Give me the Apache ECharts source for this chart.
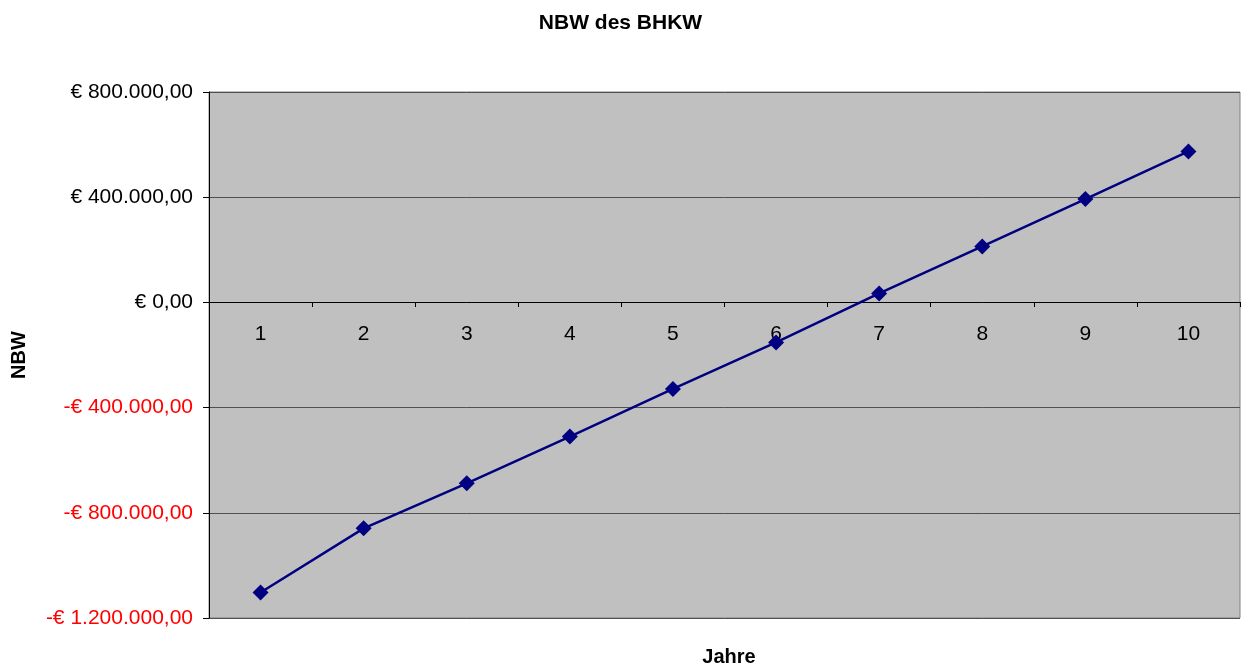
<!DOCTYPE html>
<html>
<head>
<meta charset="utf-8">
<script src="https://cdn.jsdelivr.net/npm/echarts@6/dist/echarts.min.js"></script>
<style>
  html, body { margin: 0; padding: 0; background: #fff; }
  #chart { width: 1241px; height: 670px; }
</style>
</head>
<body>
<div id="chart"></div>
<script>
var years = ['1', '2', '3', '4', '5', '6', '7', '8', '9', '10'];
var nbw = [-1103000, -859000, -688000, -510000, -329000, -152000, 34000, 213000, 393000, 574000];

function euro(v) {
  var s = Math.abs(v).toFixed(0).replace(/\B(?=(\d{3})+(?!\d))/g, '.');
  return (v < 0 ? '-' : '') + '€ ' + s + ',00';
}

var dom = document.getElementById('chart');
var myChart = echarts.init(dom, null, { renderer: 'canvas' });

var boldText = { fontFamily: 'Liberation Sans', fontSize: 20, fontWeight: 'bold', color: '#000' };

var option = {
  animation: false,
  title: [
    { text: 'NBW des BHKW', left: 'center', top: 8, textStyle: { fontFamily: 'Liberation Sans', fontSize: 21, fontWeight: 'bold', color: '#000' } },
    { text: 'Jahre', left: 724, top: 642, textAlign: 'center', textStyle: boldText }
  ],
  grid: {
    left: 209,
    right: 1,
    top: 92,
    bottom: 52,
    containLabel: false,
    outerBoundsMode: 'none',
    show: true,
    backgroundColor: '#c0c0c0',
    borderColor: '#808080',
    borderWidth: 1
  },
  xAxis: {
    type: 'category',
    data: years,
    boundaryGap: true,
    position: 'bottom',
    offset: -316,
    axisLine: { onZero: false, lineStyle: { color: '#000', width: 1 } },
    axisTick: { show: true, alignWithLabel: false, length: 5, lineStyle: { color: '#000' } },
    axisLabel: { margin: 22, fontFamily: 'Liberation Sans', fontSize: 21, color: '#000' },
    splitLine: { show: false }
  },
  yAxis: {
    type: 'value',
    min: -1200000,
    max: 800000,
    interval: 400000,
    name: 'NBW',
    nameLocation: 'middle',
    nameGap: 180,
    nameRotate: 90,
    nameTextStyle: boldText,
    axisLine: { show: true, lineStyle: { color: '#000', width: 1 } },
    axisTick: { show: true, length: 6, lineStyle: { color: '#000' } },
    axisLabel: {
      margin: 16,
      fontFamily: 'Liberation Sans',
      fontSize: 21,
      formatter: euro,
      color: function (v) { return Number(v) < 0 ? '#ff0000' : '#000'; }
    },
    splitLine: { show: true, lineStyle: { color: '#505050', width: 1 } }
  },
  series: [
    {
      name: 'NBW',
      type: 'line',
      data: nbw,
      symbol: 'diamond',
      symbolSize: 16,
      lineStyle: { color: '#000080', width: 2.5 },
      itemStyle: { color: '#000080' }
    }
  ]
};

myChart.setOption(option);
window.addEventListener('resize', myChart.resize);
</script>
</body>
</html>
